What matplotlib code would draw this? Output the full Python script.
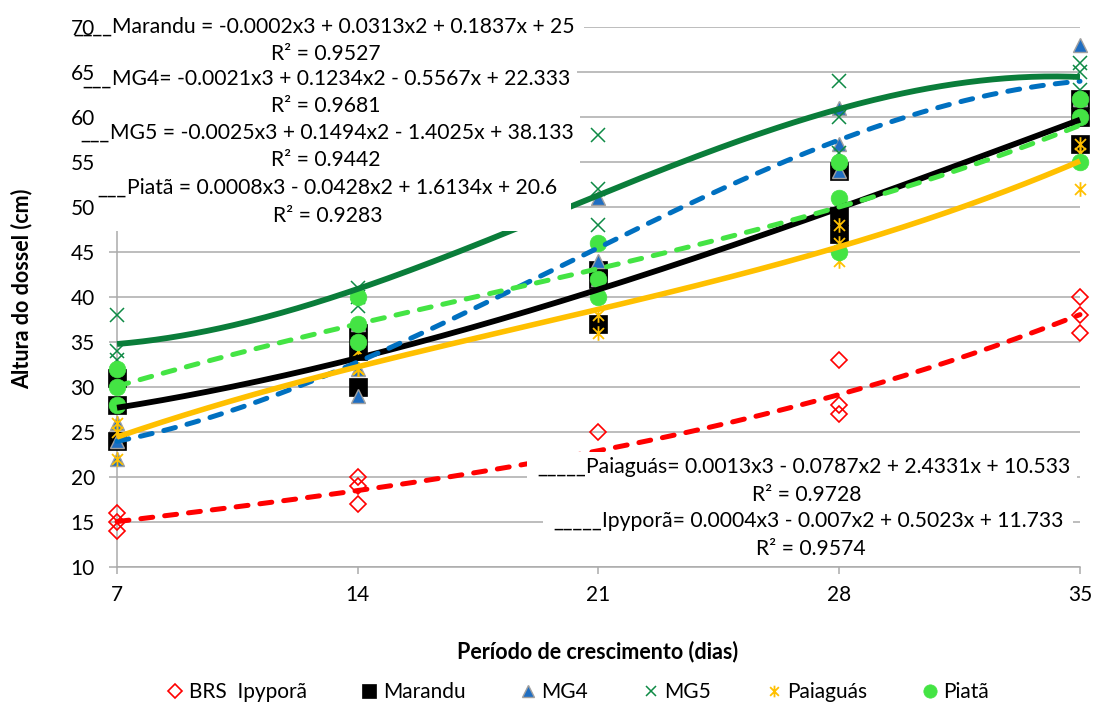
import numpy as np
import matplotlib
matplotlib.use('Agg')
import matplotlib.pyplot as plt
from matplotlib.path import Path
from matplotlib.lines import Line2D
from matplotlib.patches import Rectangle

plt.rcParams['font.family'] = ['Lato', 'DejaVu Sans']

# ---------------- data ----------------
days = [7, 14, 21, 28, 35]
# three replicate canopy heights (cm) per growth period
ipypora = [[16, 15, 14], [20, 19, 17], [25, 21, 22], [33, 28, 27], [40, 38, 36]]
marandu = [[31, 28, 24], [36, 34, 30], [43, 42, 37], [54, 49, 47], [62, 60, 57]]
mg4 = [[26, 24, 22], [37, 32, 29], [51, 44, 42], [61, 57, 54], [68, 62, 62]]
mg5 = [[38, 34, 33], [41, 40, 39], [58, 52, 48], [64, 60, 56], [66, 65, 63]]
paiaguas = [[26, 25, 22], [34, 32, 32], [40, 38, 36], [48, 46, 44], [57, 56, 52]]
piata = [[32, 30, 28], [40, 37, 35], [46, 42, 40], [55, 51, 45], [62, 60, 55]]

labels = ["BRS  Ipyporã", "Marandu", "MG4", "MG5", "Paiaguás", "Piatã"]
yticks = [10, 15, 20, 25, 30, 35, 40, 45, 50, 55, 60, 65, 70]

eq_marandu = ["Marandu = -0.0002x3 + 0.0313x2 + 0.1837x + 25", "R² = 0.9527"]
eq_mg4 = ["MG4= -0.0021x3 + 0.1234x2 - 0.5567x + 22.333", "R² = 0.9681"]
eq_mg5 = ["MG5 = -0.0025x3 + 0.1494x2 - 1.4025x + 38.133", "R² = 0.9442"]
eq_piata = ["Piatã = 0.0008x3 - 0.0428x2 + 1.6134x + 20.6", "R² = 0.9283"]
eq_paiaguas = ["Paiaguás= 0.0013x3 - 0.0787x2 + 2.4331x + 10.533", "R² = 0.9728"]
eq_ipypora = ["Ipyporã= 0.0004x3 - 0.007x2 + 0.5023x + 11.733", "R² = 0.9574"]

# ---------------- figure ----------------
W, H = 1096, 704
fig = plt.figure(figsize=(W / 100, H / 100), dpi=100)


def fx(px):
    return px / W


def fy(py):
    return 1 - py / H


ax = fig.add_axes([fx(117), fy(567), fx(1080) - fx(117), fy(27) - fy(567)])

star = Path([(0, -1), (0, 1), (-0.75, -0.75), (0.75, 0.75), (-0.75, 0.75), (0.75, -0.75)],
            [Path.MOVETO, Path.LINETO, Path.MOVETO, Path.LINETO, Path.MOVETO, Path.LINETO])

series = [ipypora, marandu, mg4, mg5, paiaguas, piata]
mstyles = [
    dict(marker='D', ms=8.5, mfc='none', mec='#FF0000', mew=1.2),
    dict(marker='s', ms=12.5, mfc='black', mec='black', mew=0.5),
    dict(marker='^', ms=10.5, mfc='#1F6EC2', mec='#A0A0A0', mew=1.0),
    dict(marker='x', ms=9.5, mfc='none', mec='#0E8A45', mew=1.1),
    dict(marker=star, ms=10.5, mfc='none', mec='#FFC000', mew=1.3),
    dict(marker='o', ms=12, mfc='#44E444', mec='#44E444', mew=0.5),
]
lstyles = [
    dict(color='#FF0000', lw=3.6, ls=(0, (2.4, 2.4)), dash_capstyle='round'),
    dict(color='black', lw=4.2, ls='-', solid_capstyle='butt'),
    dict(color='#0070C0', lw=3.6, ls=(0, (2.4, 2.4)), dash_capstyle='round'),
    dict(color='#0A7D3A', lw=4.2, ls='-', solid_capstyle='butt'),
    dict(color='#FFC000', lw=4.0, ls='-', solid_capstyle='butt'),
    dict(color='#44E444', lw=3.6, ls=(0, (2.4, 2.4)), dash_capstyle='round'),
]

xs_all = np.repeat(days, 3)
for data, st in zip(series, mstyles):
    ys = np.array(data).ravel()
    ax.plot(xs_all, ys, ls='none', clip_on=False, zorder=3, **st)

xx = np.linspace(days[0], days[-1], 300)
for data, st in zip(series, lstyles):
    ys = np.array(data).ravel()
    coef = np.polyfit(xs_all, ys, 3)
    ax.plot(xx, np.polyval(coef, xx), zorder=4, clip_on=False, **st)

ax.set_xlim(7, 35)
ax.set_ylim(10, 70)
ax.set_xticks(days)
ax.set_yticks(yticks)
ax.yaxis.grid(True, color='#ABABAB', lw=1.1)
ax.set_axisbelow(True)
for s in ['top', 'right']:
    ax.spines[s].set_visible(False)
for s in ['left', 'bottom']:
    ax.spines[s].set_color('#ABABAB')
    ax.spines[s].set_linewidth(1.1)
ax.tick_params(axis='y', length=6, color='#ABABAB', width=1.1, pad=10, labelsize=15)
ax.tick_params(axis='x', length=5, color='#ABABAB', width=1.1, pad=8, labelsize=15)

fig.text(fx(22), fy(289), "Altura do dossel (cm)", rotation=90, ha='center', va='center',
         fontsize=15.5, fontweight='bold')
fig.text(fx(598), fy(652), "Período de crescimento (dias)", ha='center', va='center',
         fontsize=15.5, fontweight='bold')

# ---------------- equation boxes ----------------
EQ_FS = 15.2
boxes = [
    # (box x0, y0, x1, y1), eq left x, eq y, underscores, R2 center x, R2 y
    ((100, 6, 584, 60), 112, 27, "____", 326, 54, eq_marandu),
    ((100, 60, 577, 115), 112, 79, "___", 326, 106, eq_mg4),
    ((100, 115, 580, 172), 110, 133, "___", 326, 160, eq_mg5),
    ((100, 172, 571, 231), 127, 188, "___", 328, 216, eq_piata),
    ((527, 452, 1077, 505), 586, 467, "_____", 807, 495, eq_paiaguas),
    ((543, 507, 1073, 562), 602, 521, "_____", 811, 549, eq_ipypora),
]
z = 10
for (x0, y0, x1, y1), ex, ey, us, rx, ry, eq in boxes:
    fig.add_artist(Rectangle((fx(x0), fy(y1)), fx(x1) - fx(x0), fy(y0) - fy(y1),
                             transform=fig.transFigure, facecolor='white',
                             edgecolor='none', zorder=z))
    fig.text(fx(ex), fy(ey), us, ha='right', va='center', fontsize=EQ_FS, zorder=z + 1)
    fig.text(fx(ex), fy(ey), eq[0], ha='left', va='center', fontsize=EQ_FS, zorder=z + 1)
    fig.text(fx(rx), fy(ry), eq[1], ha='center', va='center', fontsize=EQ_FS, zorder=z + 1)
    z += 2

# ---------------- legend ----------------
handles = [Line2D([], [], ls='none', **st) for st in mstyles]
fig.legend(handles, labels, loc='center', bbox_to_anchor=(fx(578), fy(692)), ncol=6,
           frameon=False, fontsize=15, handlelength=0.8, handletextpad=0.25,
           columnspacing=2.6, markerscale=0.8, borderaxespad=0, borderpad=0)

fig.savefig('out.png', dpi=100)
